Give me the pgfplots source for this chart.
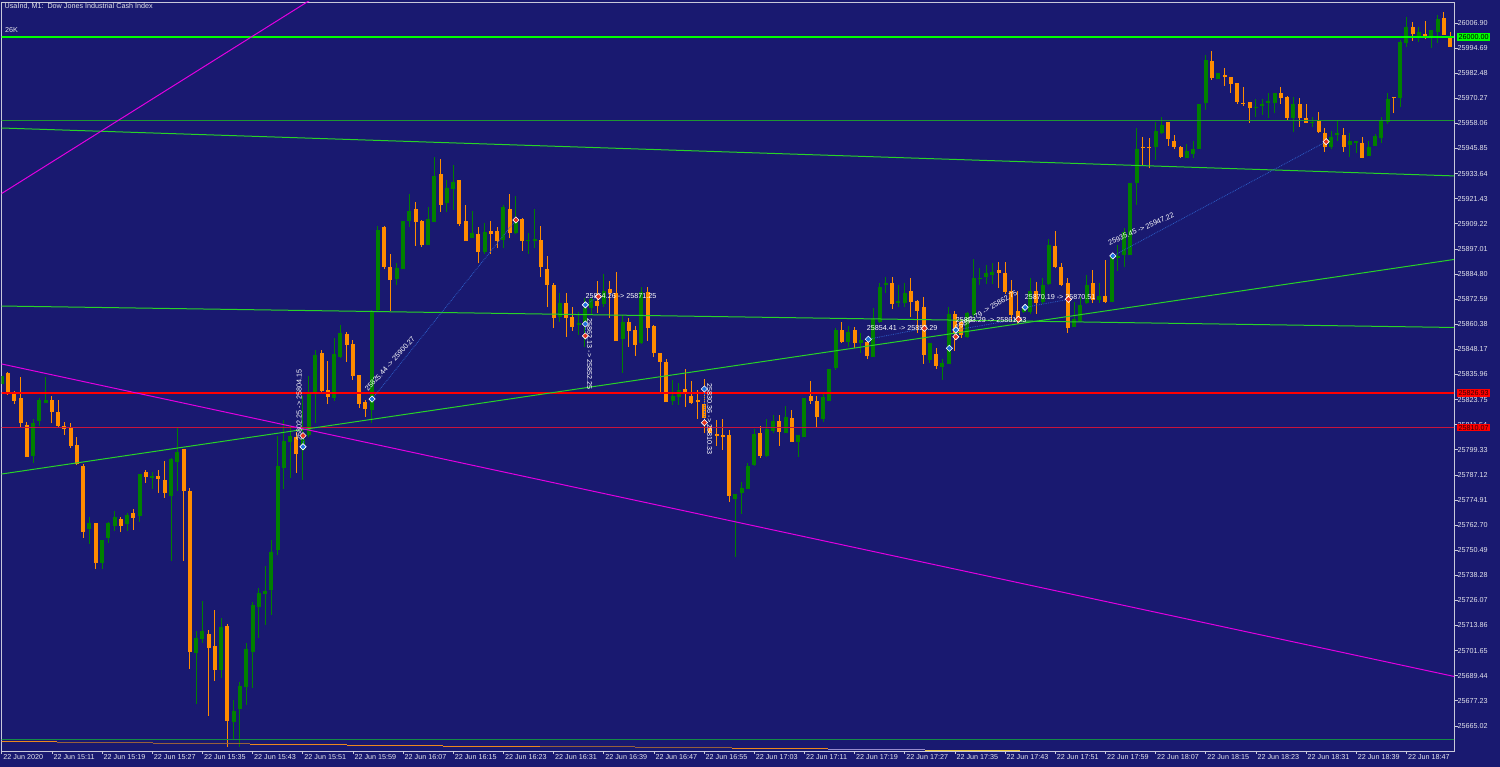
\documentclass[border=0pt]{standalone}
\usepackage{pgfplots}
\pgfplotsset{compat=1.18}
\usepackage{pgfplotstable}
\usepackage{fontspec}
\setmainfont{Liberation Sans}
\newfontfamily\lbf{Liberation Sans}
\newcommand\lbl{\lbf\fontsize{7.2}{8}\selectfont}
\definecolor{bg}{RGB}{25,25,112}
\definecolor{framec}{RGB}{200,200,218}
\definecolor{txtc}{RGB}{228,228,236}
\definecolor{bullc}{RGB}{0,128,0}
\definecolor{bearc}{RGB}{255,140,0}
\definecolor{limec}{RGB}{0,255,0}
\definecolor{trendg}{RGB}{40,210,40}
\definecolor{hgreen}{RGB}{30,150,50}
\definecolor{bgreen}{RGB}{20,140,70}
\definecolor{magc}{RGB}{225,0,225}
\definecolor{redc}{RGB}{255,0,0}
\definecolor{crimc}{RGB}{200,20,60}
\definecolor{buyc}{RGB}{30,110,220}
\definecolor{sellc}{RGB}{225,50,30}
\definecolor{dotc}{RGB}{45,95,200}
\definecolor{brownc}{RGB}{150,95,60}
\definecolor{orc}{RGB}{235,135,30}
\definecolor{lavc}{RGB}{150,140,205}
\definecolor{yelc}{RGB}{235,200,60}

\pgfplotstableread{
x o h l c
0 25831.3 25835.2 25831.3 25835.2
5 25796.3 25814.2 25793.0 25812.5
6 25813.3 25824.7 25811.0 25823.5
7 25822.2 25834.6 25822.2 25823.5
14 25760.7 25766.8 25753.4 25763.6
16 25744.4 25755.4 25741.3 25755.4
17 25756.3 25764.2 25754.1 25763.6
18 25762.3 25769.7 25760.0 25766.6
20 25763.1 25768.4 25760.0 25767.8
22 25767.3 25787.4 25764.3 25787.4
24 25785.8 25788.4 25780.3 25786.7
27 25777.0 25795.5 25745.4 25794.7
28 25793.2 25810.1 25779.3 25798.4
31 25700.3 25711.3 25675.5 25707.6
32 25707.3 25725.8 25705.2 25711.3
35 25692.2 25717.4 25688.2 25713.3
37 25667.1 25677.6 25658.2 25672.3
38 25673.1 25686.5 25654.9 25684.4
39 25684.1 25705.5 25675.2 25702.6
40 25701.1 25725.4 25683.3 25723.7
41 25723.0 25732.3 25707.9 25729.5
42 25729.0 25742.8 25714.1 25730.8
43 25731.0 25755.4 25719.0 25749.5
44 25750.6 25806.2 25748.2 25791.4
45 25790.6 25813.8 25780.1 25803.6
46 25803.3 25811.4 25785.5 25806.2
48 25799.2 25825.5 25784.6 25804.4
49 25806.5 25835.2 25805.7 25826.8
50 25826.3 25847.9 25812.2 25845.4
53 25824.4 25853.6 25823.2 25845.8
54 25844.3 25860.0 25843.8 25856.3
59 25818.7 25867.3 25812.5 25866.5
60 25867.3 25908.2 25866.5 25906.2
63 25882.2 25890.0 25879.5 25887.6
64 25887.3 25910.6 25887.3 25910.6
65 25910.8 25923.6 25907.5 25915.6
68 25898.9 25917.3 25898.9 25911.4
69 25910.3 25941.6 25910.3 25932.5
71 25919.5 25930.5 25915.1 25926.5
72 25926.2 25937.8 25916.0 25929.4
75 25902.2 25915.5 25902.2 25904.6
77 25895.4 25909.8 25894.4 25905.4
80 25901.4 25918.4 25897.3 25917.3
82 25904.6 25922.8 25904.3 25910.3
84 25901.0 25904.6 25894.6 25901.4
85 25901.0 25916.3 25897.3 25901.7
89 25864.1 25875.4 25861.6 25870.6
92 25860.0 25866.5 25855.2 25860.8
93 25860.0 25873.0 25849.5 25868.1
94 25868.1 25873.5 25865.4 25872.5
96 25870.2 25884.8 25868.9 25876.7
99 25853.1 25864.9 25836.5 25861.6
102 25851.1 25878.4 25850.6 25876.2
107 25823.2 25833.3 25821.1 25825.5
108 25825.1 25831.7 25821.1 25828.4
117 25775.2 25777.7 25747.3 25777.7
118 25778.5 25783.8 25768.0 25780.6
119 25780.3 25792.8 25780.3 25791.4
120 25791.9 25809.3 25791.4 25806.9
122 25796.3 25814.2 25796.0 25809.3
123 25808.6 25816.2 25807.3 25813.5
125 25807.3 25820.6 25807.3 25815.4
127 25803.3 25806.5 25795.7 25806.5
128 25805.4 25824.7 25805.4 25824.7
131 25814.2 25826.8 25813.0 25824.9
132 25823.1 25838.5 25823.1 25838.5
133 25839.0 25858.4 25838.1 25857.6
135 25851.9 25859.5 25849.2 25856.8
137 25851.4 25856.0 25846.3 25852.7
139 25844.6 25868.1 25844.6 25862.8
140 25861.6 25880.6 25860.8 25878.6
141 25879.5 25883.5 25875.4 25880.6
143 25870.6 25879.5 25868.6 25871.8
144 25870.9 25880.3 25868.6 25875.7
148 25843.0 25851.4 25841.4 25851.4
150 25839.4 25843.3 25833.3 25841.7
151 25841.1 25868.6 25841.1 25865.4
154 25854.3 25866.5 25853.6 25866.0
155 25864.9 25892.0 25863.3 25882.7
156 25882.2 25887.6 25879.5 25882.7
157 25883.2 25889.2 25879.8 25885.5
158 25884.3 25890.0 25879.9 25885.9
163 25866.5 25869.8 25865.7 25868.6
164 25866.5 25882.7 25865.4 25876.6
166 25871.4 25882.7 25870.2 25879.5
167 25880.0 25901.7 25879.5 25898.9
171 25859.2 25871.4 25859.2 25862.8
172 25862.1 25873.8 25861.6 25869.8
173 25870.6 25884.3 25870.2 25879.5
175 25872.2 25880.3 25870.6 25874.1
177 25871.4 25894.1 25871.4 25894.1
178 25892.5 25898.9 25886.4 25893.6
179 25894.1 25907.1 25888.4 25905.4
180 25894.1 25928.9 25894.1 25928.9
181 25929.2 25955.7 25918.4 25945.5
184 25946.7 25958.9 25940.3 25954.5
185 25953.6 25961.0 25952.9 25957.3
189 25941.1 25948.1 25941.1 25944.8
190 25943.2 25949.7 25941.1 25945.5
191 25945.5 25967.5 25945.5 25967.5
192 25968.1 25991.3 25964.6 25988.9
194 25979.5 25982.7 25979.5 25982.7
200 25965.7 25969.8 25961.0 25966.2
201 25966.5 25969.8 25962.2 25967.5
202 25967.9 25973.0 25960.6 25969.0
203 25967.9 25973.0 25963.3 25972.7
206 25960.6 25970.8 25954.0 25967.5
209 25958.4 25961.0 25956.5 25958.9
212 25946.5 25954.5 25945.5 25951.6
213 25952.4 25959.4 25949.7 25953.6
215 25947.6 25953.6 25941.9 25949.5
216 25948.4 25949.7 25943.5 25949.7
218 25942.2 25949.7 25942.2 25946.7
219 25947.1 25952.9 25947.1 25951.9
220 25951.1 25961.0 25948.4 25959.7
221 25958.9 25972.7 25957.8 25969.8
223 25970.3 25998.6 25965.9 25997.8
224 25997.3 26009.7 25995.4 26004.8
226 26000.6 26004.8 25997.8 26002.7
228 26000.2 26003.5 25994.6 26003.5
229 26002.7 26010.8 25997.3 26008.7
}\bull

\pgfplotstableread{
x o h l c
1 25836.5 25837.0 25826.0 25826.3
2 25827.3 25827.9 25821.5 25823.2
3 25824.4 25834.6 25810.3 25812.2
4 25811.4 25812.8 25796.0 25796.0
8 25823.5 25825.5 25812.2 25817.6
9 25817.6 25823.5 25810.3 25811.0
10 25810.9 25812.8 25806.5 25809.3
11 25810.1 25812.5 25800.0 25801.2
12 25801.5 25805.4 25791.8 25792.3
13 25791.4 25792.4 25756.3 25759.2
15 25763.6 25763.6 25741.5 25744.4
19 25765.7 25766.8 25759.2 25762.4
21 25768.6 25770.5 25760.3 25766.3
23 25788.7 25789.5 25783.3 25786.2
25 25786.7 25789.5 25778.5 25785.1
26 25784.6 25793.9 25776.0 25778.5
29 25799.7 25799.7 25745.4 25779.4
30 25779.3 25780.6 25692.6 25701.1
33 25709.7 25711.7 25669.8 25703.1
34 25703.9 25721.4 25687.0 25692.2
36 25713.8 25714.6 25654.9 25667.4
47 25805.4 25808.1 25788.2 25797.3
51 25846.5 25847.9 25826.8 25828.1
52 25828.4 25842.7 25821.5 25825.1
55 25855.8 25856.8 25842.2 25850.3
56 25850.8 25852.7 25833.3 25835.4
57 25835.7 25835.7 25819.5 25821.5
58 25822.4 25823.5 25815.4 25819.0
61 25907.5 25908.2 25887.1 25888.4
62 25888.4 25894.6 25867.0 25881.9
66 25916.3 25920.0 25898.4 25910.3
67 25910.6 25911.1 25898.1 25898.9
70 25933.5 25940.6 25915.1 25918.4
73 25930.5 25930.5 25908.2 25909.1
74 25910.6 25918.4 25901.0 25901.0
76 25904.3 25907.8 25890.0 25895.4
78 25905.7 25910.8 25894.6 25904.1
79 25905.7 25907.5 25897.3 25901.0
81 25916.3 25923.7 25902.2 25904.6
83 25911.4 25911.9 25896.2 25901.0
86 25901.4 25908.2 25883.2 25888.1
87 25887.4 25893.6 25868.6 25879.5
88 25879.5 25880.6 25858.4 25863.3
90 25870.6 25875.4 25854.3 25863.3
91 25863.8 25868.6 25857.1 25859.2
95 25871.8 25881.6 25865.7 25869.3
97 25877.4 25881.6 25863.3 25875.7
98 25875.4 25885.7 25852.2 25852.2
100 25861.3 25863.3 25849.5 25857.2
101 25857.6 25859.5 25845.1 25850.3
103 25875.9 25878.4 25852.4 25858.4
104 25859.5 25860.0 25844.3 25846.3
105 25846.5 25846.5 25826.5 25842.2
106 25842.0 25843.3 25822.4 25822.4
109 25828.7 25838.5 25820.3 25826.3
110 25825.5 25832.8 25821.5 25822.2
111 25823.5 25828.4 25814.2 25822.4
112 25821.6 25833.8 25807.3 25814.6
113 25810.6 25811.0 25807.3 25807.3
114 25806.9 25813.8 25801.3 25806.2
115 25806.5 25814.2 25799.2 25805.4
116 25806.5 25809.0 25774.1 25777.0
121 25807.3 25810.9 25795.2 25796.3
124 25813.3 25816.2 25801.2 25808.1
126 25814.9 25818.7 25803.3 25803.3
129 25825.5 25832.9 25821.5 25823.2
130 25823.2 25825.5 25809.8 25815.4
134 25857.6 25861.6 25851.4 25851.9
136 25857.6 25858.9 25848.7 25851.4
138 25851.9 25854.3 25843.3 25844.9
142 25880.6 25883.5 25867.7 25870.2
145 25876.7 25882.7 25864.1 25871.4
146 25871.8 25872.2 25856.3 25867.0
147 25868.6 25873.8 25841.1 25845.4
149 25845.8 25849.0 25838.5 25840.1
152 25865.4 25866.8 25847.4 25856.0
153 25861.6 25862.8 25853.6 25855.2
159 25886.8 25890.5 25877.9 25885.5
160 25885.5 25890.8 25875.1 25876.2
161 25876.7 25881.9 25861.6 25864.9
162 25867.0 25876.7 25860.5 25862.5
165 25876.7 25881.1 25865.4 25870.9
168 25898.4 25905.7 25887.6 25888.1
169 25888.4 25890.0 25879.0 25879.5
170 25880.6 25882.7 25856.3 25858.4
174 25880.6 25886.8 25870.6 25872.2
176 25874.1 25891.6 25870.6 25871.4
182 25946.8 25951.3 25937.8 25946.4
183 25946.8 25950.8 25936.2 25946.4
186 25958.6 25958.6 25947.1 25950.3
187 25949.7 25952.4 25945.5 25946.5
188 25946.5 25947.1 25941.1 25941.9
193 25988.6 25993.3 25979.2 25980.0
195 25981.5 25984.9 25976.3 25980.5
196 25980.5 25980.5 25973.0 25977.2
197 25977.9 25977.9 25967.5 25968.5
198 25968.1 25975.9 25966.5 25967.4
199 25968.5 25968.5 25958.4 25965.4
204 25972.7 25975.6 25967.5 25970.3
205 25970.8 25971.4 25959.4 25960.6
207 25967.5 25970.3 25956.2 25960.6
208 25960.6 25967.5 25958.1 25958.4
210 25959.7 25963.8 25953.3 25954.0
211 25953.6 25955.7 25944.3 25946.5
214 25952.4 25955.7 25944.3 25946.5
217 25948.7 25951.6 25941.1 25941.4
222 25970.8 25970.8 25963.0 25970.3
225 26004.8 26007.5 25998.3 26001.6
227 26001.6 26008.0 25999.0 26000.6
230 26009.2 26012.4 26001.1 26001.1
231 25999.5 26002.7 25995.4 25995.4
}\bear

\pgfplotsset{candle/.style={only marks, mark=*, mark size=0pt, mark options={draw=none, fill=none}, forget plot,
  error bars/.cd, y dir=plus, y explicit, error mark=none}}

\begin{document}
\begin{tikzpicture}[x=1pt,y=1pt]
\fill[bg] (0,0) rectangle (1500,767);
\begin{axis}[
  at={(1.7pt,16pt)}, anchor=south west,
  scale only axis, width=1452.3pt, height=749pt,
  xmin=0, xmax=231.6, ymin=25652.82, ymax=26017.12,
  axis line style={draw=framec, line width=0.9pt},
  tick style={draw=framec, line width=0.7pt},
  major tick length=3.5pt,
  tick align=outside,
  xtick pos=bottom, ytick pos=right,
  yticklabel pos=right,
  xtick={0,8,...,224},
  xticklabels={22 Jun 2020, 22 Jun 15:11, 22 Jun 15:19, 22 Jun 15:27, 22 Jun 15:35, 22 Jun 15:43, 22 Jun 15:51, 22 Jun 15:59, 22 Jun 16:07, 22 Jun 16:15, 22 Jun 16:23, 22 Jun 16:31, 22 Jun 16:39, 22 Jun 16:47, 22 Jun 16:55, 22 Jun 17:03, 22 Jun 17:11, 22 Jun 17:19, 22 Jun 17:27, 22 Jun 17:35, 22 Jun 17:43, 22 Jun 17:51, 22 Jun 17:59, 22 Jun 18:07, 22 Jun 18:15, 22 Jun 18:23, 22 Jun 18:31, 22 Jun 18:39, 22 Jun 18:47},
  ytick={26006.90,25994.69,25982.48,25970.27,25958.06,25945.85,25933.64,25921.43,25909.22,25897.01,25884.80,25872.59,25860.38,25848.17,25835.96,25823.75,25811.54,25799.33,25787.12,25774.91,25762.70,25750.49,25738.28,25726.07,25713.86,25701.65,25689.44,25677.23,25665.02},
  yticklabels={26006.90,25994.69,25982.48,25970.27,25958.06,25945.85,25933.64,25921.43,25909.22,25897.01,25884.80,25872.59,25860.38,25848.17,25835.96,25823.75,25811.54,25799.33,25787.12,25774.91,25762.70,25750.49,25738.28,25726.07,25713.86,25701.65,25689.44,25677.23,25665.02},
  ticklabel style={font=\lbl, text=txtc},
  xticklabel style={anchor=north west, inner sep=0pt, xshift=1.5pt},
  yticklabel style={anchor=west, inner sep=0pt},
  scaled y ticks=false,
  clip=true,
]
% wicks
\addplot[candle, error bar style={draw=bullc, line width=1pt}]
  table[x=x, y=l, y error plus expr=\thisrow{h}-\thisrow{l}] {\bull};
\addplot[candle, error bar style={draw=bearc, line width=1pt}]
  table[x=x, y=l, y error plus expr=\thisrow{h}-\thisrow{l}] {\bear};
% bodies
\addplot[candle, error bar style={draw=bullc, line width=4pt}]
  table[x=x, y=o, y error plus expr=\thisrow{c}-\thisrow{o}] {\bull};
\addplot[candle, error bar style={draw=bearc, line width=4pt}]
  table[x=x, y=c, y error plus expr=\thisrow{o}-\thisrow{c}] {\bear};

% horizontal lines
\addplot[draw=hgreen, line width=1pt] coordinates {(-1,25959.4) (233,25959.4)};
\addplot[draw=bgreen, line width=1.2pt] coordinates {(-1,25658.5) (233,25658.5)};
\addplot[draw=redc, line width=1.3pt] coordinates {(-1,25826.93) (233,25826.93)};
\addplot[draw=crimc, line width=1pt] coordinates {(-1,25810.07) (233,25810.07)};
\addplot[draw=limec, line width=2.6pt] coordinates {(-1,26000) (233,26000)};
% trend lines
\addplot[draw=trendg, line width=1pt] coordinates {(-1,25955.93) (233,25932.39)};
\addplot[draw=trendg, line width=1pt] coordinates {(-1,25869.29) (233,25858.75)};
\addplot[draw=trendg, line width=1pt] coordinates {(-1,25787.09) (233,25892.52)};
\addplot[draw=magc, line width=1pt] coordinates {(-1,25841.71) (233,25688.17)};
\addplot[draw=magc, line width=1pt] coordinates {(-1,25922.08) (50.77,26021.06)};
% bottom stepped indicator
\addplot[draw=orc, line width=0.9pt] coordinates {(-1,25657.34) (8.82,25657.34)};
\addplot[draw=brownc, line width=0.9pt] coordinates {(8.82,25656.86) (24.13,25656.86)};
\addplot[draw=brownc, line width=0.9pt] coordinates {(24.13,25656.37) (39.6,25656.37)};
\addplot[draw=orc, line width=0.9pt] coordinates {(39.6,25655.88) (55.07,25655.88)};
\addplot[draw=orc, line width=0.9pt] coordinates {(55.07,25655.40) (70.38,25655.40)};
\addplot[draw=orc, line width=0.9pt] coordinates {(70.38,25655.11) (85.85,25655.11)};
\addplot[draw=brownc, line width=0.9pt] coordinates {(85.85,25654.91) (101.0,25654.91)};
\addplot[draw=brownc, line width=0.9pt] coordinates {(101.0,25654.62) (116.47,25654.62)};
\addplot[draw=orc, line width=0.9pt] coordinates {(116.47,25654.13) (131.79,25654.13)};
\addplot[draw=lavc, line width=0.9pt] coordinates {(131.79,25653.65) (147.2,25653.65)};
\addplot[draw=yelc, line width=0.9pt] coordinates {(147.2,25653.16) (162.4,25653.16)};
% trade connection lines
\addplot[draw=dotc, densely dotted, line width=0.8pt] coordinates {(59.06,25824.0) (82.0,25911.1)};
\addplot[draw=dotc, densely dotted, line width=0.8pt] coordinates {(177.19,25893.6) (211.21,25949.2)};
\addplot[draw=dotc, densely dotted, line width=0.8pt] coordinates {(138.21,25853.1) (147.14,25858.4)};
\addplot[draw=dotc, densely dotted, line width=0.8pt] coordinates {(152.15,25857.6) (162.14,25862.8)};
\addplot[draw=dotc, densely dotted, line width=0.8pt] coordinates {(163.2,25868.6) (170.11,25872.5)};
\addplot[draw=dotc, densely dotted, line width=0.8pt] coordinates {(93.08,25869.8) (95.15,25873.8)};
\addplot[draw=dotc, densely dotted, line width=0.8pt] coordinates {(48.05,25800.8) (48.05,25806.2)};
\addplot[draw=dotc, densely dotted, line width=0.8pt] coordinates {(93.08,25860.5) (93.08,25854.7)};
\addplot[draw=dotc, densely dotted, line width=0.8pt] coordinates {(112.06,25828.9) (112.06,25812.5)};
% trade markers
\addplot[only marks, mark=square*, mark size=2.2pt, mark options={rotate=45, fill=buyc, draw=white, line width=0.6pt}]
  coordinates {(48.05,25800.8) (59.06,25824.0) (93.08,25869.8) (93.08,25860.5) (112.06,25828.9) (138.21,25853.1) (151.13,25848.7) (152.15,25857.6) (163.2,25868.6) (177.19,25893.6)};
\addplot[only marks, mark=square*, mark size=2.2pt, mark options={rotate=45, fill=sellc, draw=white, line width=0.6pt}]
  coordinates {(48.05,25806.2) (82.0,25911.1) (95.15,25873.8) (93.08,25854.7) (112.06,25812.5) (147.14,25858.4) (152.15,25854.3) (162.14,25862.8) (170.11,25872.5) (211.21,25949.2)};
% annotations
\begin{scope}[every node/.style={font=\lbl, text=white, inner sep=0pt}]
\node[rotate=90] at (axis cs:47.42,25821.1) {25802.25 -> 25804.15};
\node[rotate=48] at (axis cs:61.91,25841.05) {25825.44 -> 25900.27};
\node at (axis cs:98.77,25874.12) {25864.26 -> 25871.25};
\node[rotate=-90] at (axis cs:93.75,25845.91) {25862.13 -> 25852.25};
\node[rotate=-90] at (axis cs:112.89,25814.3) {25830.36 -> 25810.33};
\node at (axis cs:143.59,25858.56) {25854.41 -> 25854.29};
\node[rotate=31] at (axis cs:157.0,25867.2) {25852.79 -> 25862.75};
\node at (axis cs:157.78,25862.4) {25853.29 -> 25861.43};
\node at (axis cs:168.79,25873.64) {25870.19 -> 25870.51};
\node[rotate=23.5] at (axis cs:181.7,25906.71) {25935.45 -> 25947.22};
\end{scope}
\coordinate (Lg) at (axis cs:231.6,26000);
\coordinate (Lr1) at (axis cs:231.6,25826.93);
\coordinate (Lr2) at (axis cs:231.6,25810.07);
\end{axis}
\node[font=\lbl, text=txtc, anchor=west, inner sep=0pt] at (4.5,760.3) {UsaInd, M1:\ \ Dow Jones Industrial Cash Index};
\node[font=\lbl, text=txtc, anchor=west, inner sep=0pt] at (5,737) {26K};
\node[font=\lbl, fill=limec, text=black, anchor=west, inner xsep=1.8pt, inner ysep=1.2pt, text height=5.2pt, text depth=0pt] at ([xshift=2.5pt]Lg) {26000.00};
\node[font=\lbl, fill=redc, text=black!80!red, anchor=west, inner xsep=1.8pt, inner ysep=1.2pt, text height=5.2pt, text depth=0pt] at ([xshift=2.5pt]Lr1) {25826.93};
\node[font=\lbl, fill=redc, text=black!80!red, anchor=west, inner xsep=1.8pt, inner ysep=1.2pt, text height=5.2pt, text depth=0pt] at ([xshift=2.5pt]Lr2) {25810.07};
\pgfresetboundingbox
\useasboundingbox (0,0) rectangle (1500,767);
\end{tikzpicture}
\end{document}
